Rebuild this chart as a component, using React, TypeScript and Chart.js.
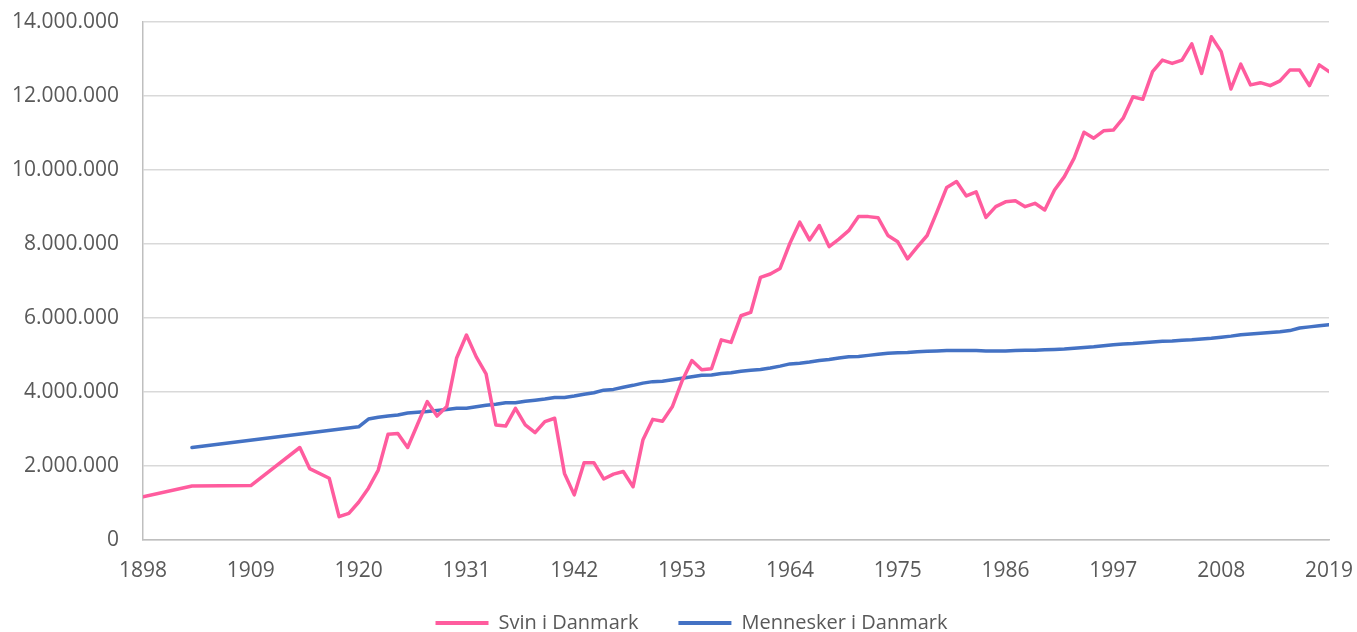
import React, { useEffect, useRef } from "react";
import { Chart, registerables } from "chart.js";

Chart.register(...registerables);

const svinYears = [
  1898, 1903, 1909, 1914, 1915, 1917, 1918, 1919, 1920, 1921, 1922, 1923, 1924, 1925, 1926, 1927, 1928, 1929,
  1930, 1931, 1932, 1933, 1934, 1935, 1936, 1937, 1938, 1939, 1940, 1941, 1942, 1943, 1944, 1945, 1946, 1947,
  1948, 1949, 1950, 1951, 1952, 1953, 1954, 1955, 1956, 1957, 1958, 1959, 1960, 1961, 1962, 1963, 1964, 1965,
  1966, 1967, 1968, 1969, 1970, 1971, 1972, 1973, 1974, 1975, 1976, 1977, 1978, 1979, 1980, 1981, 1982, 1983,
  1984, 1985, 1986, 1987, 1988, 1989, 1990, 1991, 1992, 1993, 1994, 1995, 1996, 1997, 1998, 1999, 2000, 2001,
  2002, 2003, 2004, 2005, 2006, 2007, 2008, 2009, 2010, 2011, 2012, 2013, 2014, 2015, 2016, 2017, 2018, 2019,
];
const svinValues = [
  1170000, 1460000, 1470000, 2500000, 1930000, 1670000, 630000, 720000, 1020000, 1400000, 1890000, 2860000,
  2880000, 2500000, 3120000, 3740000, 3350000, 3610000, 4920000, 5540000, 4950000, 4490000, 3110000, 3080000,
  3560000, 3110000, 2900000, 3200000, 3290000, 1800000, 1220000, 2090000, 2090000, 1650000, 1780000, 1850000,
  1440000, 2700000, 3260000, 3210000, 3600000, 4300000, 4850000, 4600000, 4630000, 5410000, 5340000, 6060000,
  6150000, 7100000, 7190000, 7340000, 8020000, 8590000, 8110000, 8500000, 7930000, 8130000, 8360000, 8740000,
  8740000, 8710000, 8230000, 8060000, 7600000, 7920000, 8230000, 8870000, 9530000, 9690000, 9300000, 9410000,
  8720000, 9010000, 9140000, 9170000, 9010000, 9100000, 8920000, 9460000, 9820000, 10320000, 11020000, 10860000,
  11060000, 11080000, 11400000, 11980000, 11910000, 12660000, 12970000, 12880000, 12970000, 13410000, 12610000,
  13600000, 13200000, 12190000, 12860000, 12300000, 12360000, 12280000, 12410000, 12700000, 12700000, 12280000,
  12840000, 12660000,
];

const menneskerYears = [
  1903, 1920, 1921, 1922, 1923, 1924, 1925, 1926, 1927, 1928, 1929, 1930, 1931, 1932, 1933, 1934, 1935, 1936,
  1937, 1938, 1939, 1940, 1941, 1942, 1943, 1944, 1945, 1946, 1947, 1948, 1949, 1950, 1951, 1952, 1953, 1954,
  1955, 1956, 1957, 1958, 1959, 1960, 1961, 1962, 1963, 1964, 1965, 1966, 1967, 1968, 1969, 1970, 1971, 1972,
  1973, 1974, 1975, 1976, 1977, 1978, 1979, 1980, 1981, 1982, 1983, 1984, 1985, 1986, 1987, 1988, 1989, 1990,
  1991, 1992, 1993, 1994, 1995, 1996, 1997, 1998, 1999, 2000, 2001, 2002, 2003, 2004, 2005, 2006, 2007, 2008,
  2009, 2010, 2011, 2012, 2013, 2014, 2015, 2016, 2017, 2018, 2019,
];
const menneskerValues = [
  2500000, 3060000, 3270000, 3320000, 3350000, 3380000, 3430000, 3450000, 3470000, 3500000, 3530000, 3560000,
  3560000, 3600000, 3640000, 3670000, 3710000, 3710000, 3750000, 3780000, 3810000, 3850000, 3850000, 3890000,
  3940000, 3980000, 4050000, 4070000, 4130000, 4180000, 4240000, 4280000, 4290000, 4330000, 4370000, 4410000,
  4450000, 4460000, 4500000, 4520000, 4560000, 4590000, 4610000, 4650000, 4700000, 4760000, 4780000, 4810000,
  4850000, 4880000, 4920000, 4950000, 4960000, 4990000, 5020000, 5050000, 5060000, 5070000, 5090000, 5100000,
  5110000, 5120000, 5120000, 5120000, 5120000, 5110000, 5110000, 5110000, 5120000, 5130000, 5130000, 5140000,
  5150000, 5160000, 5180000, 5200000, 5220000, 5250000, 5280000, 5300000, 5310000, 5330000, 5350000, 5370000,
  5380000, 5400000, 5410000, 5430000, 5450000, 5480000, 5510000, 5550000, 5570000, 5590000, 5610000, 5630000,
  5660000, 5730000, 5760000, 5790000, 5820000,
];

const xTickYears = [1898, 1909, 1920, 1931, 1942, 1953, 1964, 1975, 1986, 1997, 2008, 2019];
const yTickValues = [0, 2000000, 4000000, 6000000, 8000000, 10000000, 12000000, 14000000];

const seriesNames = ["Svin i Danmark", "Mennesker i Danmark"];
const PINK = "#FF5C9E";
const BLUE = "#4472C4";
const TEXT = "#595959";

const fmt = (v: number) => String(Math.round(v)).replace(/\B(?=(\d{3})+(?!\d))/g, ".");

// Place the legend row where the reference has it (below the year labels).
const legendPlacer = {
  id: "legendPlacer",
  afterLayout(chart: any) {
    const l = chart.legend;
    if (!l) return;
    l.top = 573;
    l.bottom = 660;
    l.height = 87;
    l.left += 23;
    l.right += 23;
  },
};

export default function App() {
  const ref = useRef<HTMLCanvasElement | null>(null);

  useEffect(() => {
    if (!ref.current) return;
    const chart = new Chart(ref.current, {
      type: "line",
      data: {
        datasets: [
          {
            label: seriesNames[0],
            data: svinYears.map((y, i) => ({ x: y, y: svinValues[i] })),
            borderColor: PINK,
            backgroundColor: PINK,
            borderWidth: 3.5,
            pointRadius: 0,
            tension: 0,
            borderCapStyle: "round",
            borderJoinStyle: "round",
          },
          {
            label: seriesNames[1],
            data: menneskerYears.map((y, i) => ({ x: y, y: menneskerValues[i] })),
            borderColor: BLUE,
            backgroundColor: BLUE,
            borderWidth: 3.5,
            pointRadius: 0,
            tension: 0,
            borderCapStyle: "round",
            borderJoinStyle: "round",
          },
        ],
      },
      options: {
        animation: false,
        responsive: true,
        maintainAspectRatio: false,
        layout: { padding: { top: 22, right: 28, bottom: 0, left: 8 } },
        plugins: {
          legend: {
            position: "bottom",
            maxHeight: 42,
            labels: {
              boxWidth: 53,
              boxHeight: 4,
              padding: 40,
              color: TEXT,
              font: { family: "Open Sans", size: 20 },
              generateLabels: (c: any) =>
                Chart.defaults.plugins.legend.labels.generateLabels(c).map((it: any) => ({
                  ...it,
                  lineWidth: 0,
                })),
            },
          },
          tooltip: { enabled: false },
        },
        scales: {
          x: {
            type: "linear",
            min: 1898,
            max: 2019,
            afterBuildTicks: (s: any) => {
              s.ticks = xTickYears.map((v) => ({ value: v }));
            },
            afterFit: (s: any) => {
              s.height = 50;
            },
            grid: {
              display: true,
              color: "rgba(0,0,0,0)",
              drawTicks: true,
              tickLength: 18.5,
              tickColor: "rgba(0,0,0,0)",
            },
            border: { display: true, color: "#BFBFBF", width: 1.5 },
            ticks: {
              padding: 0,
              color: TEXT,
              font: { family: "Open Sans", size: 21 },
              maxRotation: 0,
              autoSkip: false,
              callback: (v: any) => String(v),
            },
          },
          y: {
            min: 0,
            max: 14000000,
            afterBuildTicks: (s: any) => {
              s.ticks = yTickValues.map((v) => ({ value: v }));
            },
            afterFit: (s: any) => {
              s.width = 135;
            },
            grid: {
              color: "#D9D9D9",
              lineWidth: 1.5,
              drawTicks: true,
              tickLength: 24,
              tickColor: "rgba(0,0,0,0)",
            },
            border: { display: true, color: "#BFBFBF", width: 1.5 },
            ticks: {
              padding: 0,
              color: TEXT,
              font: { family: "Open Sans", size: 21 },
              callback: (v: any) => fmt(Number(v)),
            },
          },
        },
      },
      plugins: [legendPlacer],
    } as any);
    return () => chart.destroy();
  }, []);

  return (
    <div style={{ position: "absolute", left: 0, top: 0, width: 1357, height: 632 }}>
      <canvas ref={ref} />
    </div>
  );
}
